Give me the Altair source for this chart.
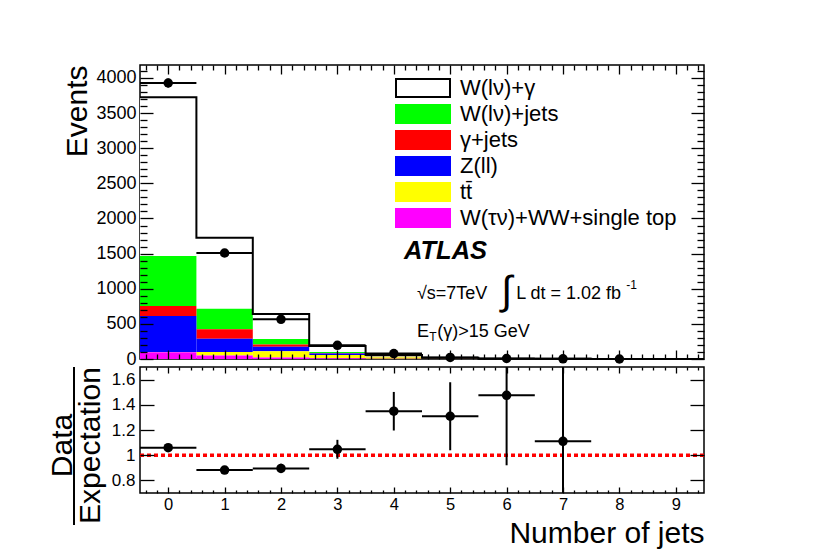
import altair as alt
import pandas as pd

# ---------------- data ----------------
jets = [0, 1, 2, 3, 4, 5, 6, 7, 8, 9]
processes = ["W(lν)+γ", "W(lν)+jets", "γ+jets", "Z(ll)", "tt̄", "W(τν)+WW+single top"]
fills = ["#ffffff", "#00ff00", "#ff0000", "#0000ff", "#ffff00", "#ff00ff"]
strokes = ["#000000", "#00ff00", "#ff0000", "#0000ff", "#ffff00", "#ff00ff"]
stack_order = [5, 4, 3, 2, 1, 0]  # W(tau nu) at the bottom, W(l nu)+gamma on top

w_gamma = [2259, 1011, 356, 86, 22, 5.6, 1.35, 0.5, 0.15, 0.05]
w_jets = [712, 293, 76, 15, 4, 1.5, 0.4, 0.2, 0.05, 0.02]
gamma_jets = [142, 134, 33, 8, 2, 0.5, 0.1, 0.0, 0.0, 0.0]
z_ll = [512, 189, 62, 20, 4, 1.0, 0.3, 0.1, 0.05, 0.02]
ttbar = [5, 50, 90, 45, 20, 7.0, 2.0, 0.7, 0.25, 0.1]
w_tau = [95, 50, 22, 12, 5, 2.0, 0.6, 0.3, 0.1, 0.1]
series = [w_gamma, w_jets, gamma_jets, z_ll, ttbar, w_tau]

data_jets = [0, 1, 2, 3, 4, 5, 6, 7, 8]
data_counts = [3929, 1509, 565, 195, 77, 23, 7, 2, 0]
data_errors = [63, 39, 24, 14, 9, 5, 2.6, 1.4, 0]

ratio_jets = [0, 1, 2, 3, 4, 5, 6, 7]
ratio_vals = [1.06, 0.882, 0.895, 1.047, 1.349, 1.309, 1.475, 1.11]
ratio_errs = [0.017, 0.022, 0.037, 0.075, 0.153, 0.27, 0.555, 0.78]

# tick values
x_major = [0, 1, 2, 3, 4, 5, 6, 7, 8, 9]
x_minor = [round(k / 5, 1) for k in range(-2, 48) if k % 5 != 0]
y_up_major = [0, 500, 1000, 1500, 2000, 2500, 3000, 3500, 4000]
y_up_minor = [v for v in range(100, 4200, 100) if v % 500]
y_lo_major = [0.8, 1.0, 1.2, 1.4, 1.6]

# ---------------- tables ----------------
rows = []
for p, vals, o in zip(processes, series, stack_order):
    for j, v in zip(jets, vals):
        rows.append({"jet": j, "lo": j - 0.5, "hi": j + 0.5, "process": p, "order": o, "value": v})
stack_df = pd.DataFrame(rows)

totals = [sum(s[i] for s in series) for i in range(len(jets))]
edges = [j - 0.5 for j in jets] + [jets[-1] + 0.5]
step_df = pd.DataFrame({"edge": edges, "total": totals + [totals[-1]]})

data_df = pd.DataFrame({"jet": data_jets, "data": data_counts, "err": data_errors})
data_df["lo"] = data_df["jet"] - 0.5
data_df["hi"] = data_df["jet"] + 0.5
data_df["dlo"] = data_df["data"] - data_df["err"]
data_df["dhi"] = data_df["data"] + data_df["err"]

ratio_df = pd.DataFrame({"jet": ratio_jets, "ratio": ratio_vals, "err": ratio_errs})
ratio_df["lo"] = ratio_df["jet"] - 0.5
ratio_df["hi"] = ratio_df["jet"] + 0.5
ratio_df["rlo"] = ratio_df["ratio"] - ratio_df["err"]
ratio_df["rhi"] = ratio_df["ratio"] + ratio_df["err"]

FONT = "Liberation Sans"
W = 564
H_UP = 294
H_LO = 126

xs = alt.Scale(domain=[-0.5, 9.5], nice=False, zero=False)
ys_up = alt.Scale(domain=[0, 4185], nice=False, zero=False)
ys_lo = alt.Scale(domain=[0.7, 1.7], nice=False, zero=False)


def tick_axis(orient, values, size):
    return alt.Axis(orient=orient, values=values, tickSize=size, offset=-size,
                    labels=False, domain=False, grid=False, title=None,
                    tickColor="black", tickWidth=1.3, zindex=1)


# ---------------- upper panel ----------------
legend = alt.Legend(orient="none", legendX=272, legendY=12, title=None,
                    symbolType="M-3,-1H3V1H-3Z", symbolSize=324, symbolStrokeWidth=2,
                    labelFontSize=22, labelFont=FONT, labelOffset=26, rowPadding=0,
                    labelLimit=400, labelColor="black")

bars = alt.Chart(stack_df).transform_stack(
    stack="value", groupby=["jet"], as_=["y0", "y1"],
    sort=[alt.SortField("order", order="ascending")]
).mark_rect(strokeWidth=0).encode(
    x=alt.X("lo:Q", scale=xs, axis=tick_axis("bottom", x_major, 9)),
    x2="hi:Q",
    y=alt.Y("y0:Q", scale=ys_up, axis=alt.Axis(
        orient="left", values=y_up_major, tickSize=13, offset=-13, domain=False, grid=False,
        format="d", labelFontSize=18, labelFont=FONT, labelPadding=4, labelColor="black",
        tickColor="black", tickWidth=1.3, zindex=1,
        title="Events", titleFont=FONT, titleFontSize=30, titleFontWeight="normal",
        titleColor="black", titleAngle=270, titleAlign="right", titleBaseline="alphabetic",
        titleX=-67, titleY=0)),
    y2="y1:Q",
    fill=alt.Fill("process:N", scale=alt.Scale(domain=processes, range=fills), legend=legend),
    stroke=alt.Stroke("process:N", scale=alt.Scale(domain=processes, range=strokes), legend=legend),
)

outline = alt.Chart(step_df).mark_line(interpolate="step-after", color="black", strokeWidth=2).encode(
    x=alt.X("edge:Q", scale=xs, axis=tick_axis("bottom", x_minor, 5)),
    y=alt.Y("total:Q", scale=ys_up, axis=tick_axis("left", y_up_minor, 7)),
)

v_err = alt.Chart(data_df).mark_rule(color="black", strokeWidth=2).encode(
    x=alt.X("jet:Q", scale=xs, axis=tick_axis("top", x_major, 9)),
    y=alt.Y("dlo:Q", scale=ys_up, axis=tick_axis("right", y_up_major, 13)),
    y2="dhi:Q",
)

h_err = alt.Chart(data_df).mark_rule(color="black", strokeWidth=2).encode(
    x=alt.X("lo:Q", scale=xs, axis=tick_axis("top", x_minor, 5)),
    x2="hi:Q",
    y=alt.Y("data:Q", scale=ys_up, axis=tick_axis("right", y_up_minor, 7)),
)

pts = alt.Chart(data_df).mark_circle(color="black", opacity=1, size=90).encode(
    x=alt.X("jet:Q", scale=xs, axis=None),
    y=alt.Y("data:Q", scale=ys_up, axis=None),
)


def label(text, x, y, size=18, weight="normal", style="normal", align="left", baseline="alphabetic"):
    return alt.Chart(pd.DataFrame({"t": [text]})).mark_text(
        font=FONT, fontSize=size, fontWeight=weight, fontStyle=style,
        align=align, baseline=baseline, color="black"
    ).encode(
        x=alt.X(datum=x, scale=xs, axis=None),
        y=alt.Y(datum=y, scale=ys_up, axis=None),
        text="t:N",
    )


texts = [
    label("ATLAS", 4.18, 1420, size=25.5, weight="bold", style="italic"),
    label("√s=7TeV", 4.41, 854),
    label("∫", 6.0, 960, size=40, align="center", baseline="middle"),
    label("L dt = 1.02 fb", 6.17, 854),
    label("-1", 8.12, 1000, size=12),
    label("E", 4.41, 313),
    label("T", 4.63, 255, size=12),
    label("(γ)>15 GeV", 4.77, 313),
]

upper = alt.layer(bars, outline, v_err, h_err, pts, *texts).resolve_axis(
    x="independent", y="independent"
).properties(width=W, height=H_UP)

# ---------------- lower panel ----------------
r_h = alt.Chart(ratio_df).mark_rule(color="black", strokeWidth=2, clip=True).encode(
    x=alt.X("lo:Q", scale=xs, axis=alt.Axis(
        orient="bottom", values=x_major, tickSize=6, offset=-6, domain=False, grid=False,
        labelFontSize=16.5, labelFont=FONT, labelPadding=3, labelColor="black",
        tickColor="black", tickWidth=1.3, zindex=1,
        title="Number of jets", titleFont=FONT, titleFontSize=30, titleFontWeight="normal",
        titleColor="black", titleAlign="right", titleBaseline="alphabetic",
        titleX=W, titleY=55)),
    x2="hi:Q",
    y=alt.Y("ratio:Q", scale=ys_lo, axis=alt.Axis(
        orient="left", values=y_lo_major, tickSize=14, offset=-14, domain=False, grid=False,
        format=".1~f", labelFontSize=17, labelFont=FONT, labelPadding=5, labelColor="black",
        tickColor="black", tickWidth=1.3, zindex=1,
        title=["Data", "Expectation"], titleFont=FONT, titleFontSize=30, titleFontWeight="normal",
        titleColor="black", titleAngle=270, titleAlign="center", titleBaseline="alphabetic",
        titleLineHeight=28, titleX=-83, titleY=78)),
)

r_v = alt.Chart(ratio_df).mark_rule(color="black", strokeWidth=2, clip=True).encode(
    x=alt.X("jet:Q", scale=xs, axis=tick_axis("bottom", x_minor, 3)),
    y=alt.Y("rlo:Q", scale=ys_lo, axis=tick_axis("right", y_lo_major, 14)),
    y2="rhi:Q",
)

r_pts = alt.Chart(ratio_df).mark_circle(color="black", opacity=1, size=90, clip=True).encode(
    x=alt.X("jet:Q", scale=xs, axis=tick_axis("top", x_major, 6)),
    y=alt.Y("ratio:Q", scale=ys_lo, axis=None),
)

unity = alt.Chart(pd.DataFrame({"v": [1]})).mark_rule(
    color="#ff0000", strokeWidth=3.5, strokeDash=[4, 3]
).encode(
    x=alt.X(datum=-0.5, scale=xs, axis=tick_axis("top", x_minor, 3)),
    x2=alt.X2(datum=9.5),
    y=alt.Y(datum=1, scale=ys_lo, axis=None),
)

frac_bar = alt.Chart(pd.DataFrame({"v": [1]})).mark_rule(color="black", strokeWidth=2).encode(
    x=alt.value(-66), y=alt.value(0), y2=alt.value(158)
)

lower = alt.layer(unity, r_h, r_v, r_pts, frac_bar).resolve_axis(
    x="independent", y="independent"
).properties(width=W, height=H_LO)

chart = alt.vconcat(upper, lower, spacing=8, bounds="flush").properties(
    padding={"left": 38, "top": 55, "right": 10, "bottom": 5},
    background="white",
).configure_view(stroke="black", strokeWidth=1.5).configure_axis(
    labelFont=FONT, titleFont=FONT
)

chart.save("out.html", embed_options={"renderer": "svg", "actions": False})
